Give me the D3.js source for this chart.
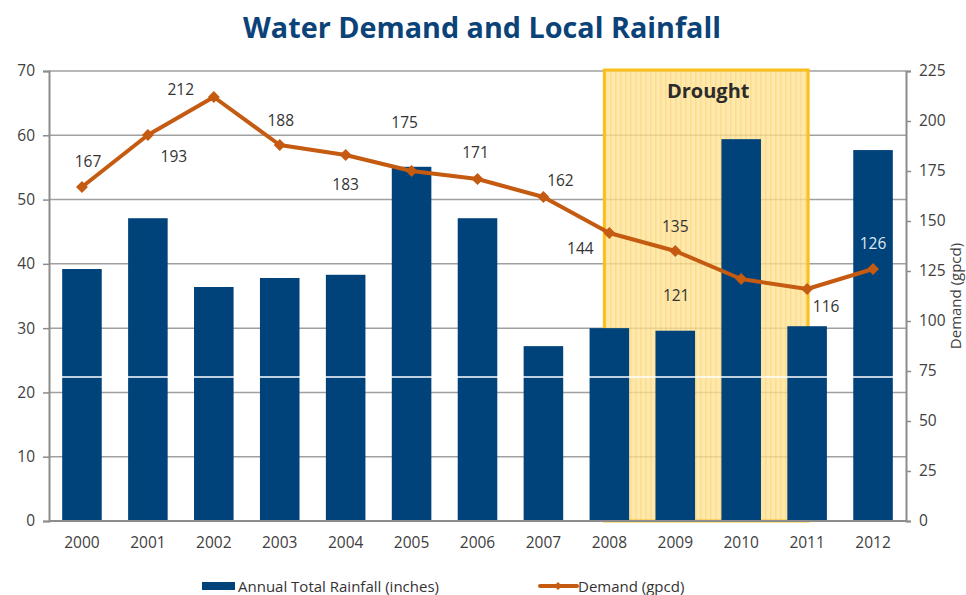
<!DOCTYPE html>
<html>
<head>
<meta charset="utf-8">
<script src="https://cdn.jsdelivr.net/npm/d3@7"></script>
<style>
  html, body { margin: 0; padding: 0; background: #fff; }
  svg { display: block; font-family: "Open Sans", "Noto Sans", sans-serif; }
</style>
</head>
<body>
<svg id="chart"></svg>
<script>
// data
const years = ["2000", "2001", "2002", "2003", "2004", "2005", "2006", "2007", "2008", "2009", "2010", "2011", "2012"];
const rainfall = [39.2, 47.1, 36.4, 37.8, 38.3, 55.1, 47.1, 27.2, 30.0, 29.6, 59.4, 30.3, 57.7];
const demand = [167, 193, 212, 188, 183, 175, 171, 162, 144, 135, 121, 116, 126];
const leftTicks = [0, 10, 20, 30, 40, 50, 60, 70];
const rightTicks = [0, 25, 50, 75, 100, 125, 150, 175, 200, 225];
const droughtYears = ["2008", "2011"];

// where each demand label sits relative to its point (manual placement like the original)
const labelNudge = [[6, -25], [26, 22], [-33, -7], [1, -24], [0, 30], [-7, -48], [-2, -26], [17, -16], [-29, 16], [0, -24], [-65, 17], [19, 18], [0, -25]];

const width = 966, height = 595;
const margin = {top: 71, right: 60, bottom: 74, left: 49};

const svg = d3.select("#chart")
    .attr("width", width)
    .attr("height", height);

const x = d3.scaleBand()
    .domain(years)
    .range([margin.left, width - margin.right])
    .paddingInner(0.4)
    .paddingOuter(0.2);

const yL = d3.scaleLinear().domain([0, 70]).range([height - margin.bottom, margin.top]);
const yR = d3.scaleLinear().domain([0, 225]).range([height - margin.bottom, margin.top]);

const navy = "#00427a";
const orange = "#c55a11";

// title
svg.append("text")
    .attr("x", 482)
    .attr("y", 38)
    .attr("text-anchor", "middle")
    .attr("font-size", 28)
    .attr("font-weight", 700)
    .attr("fill", "#0b4379")
    .attr("textLength", 478)
    .attr("lengthAdjust", "spacingAndGlyphs")
    .text("Water Demand and Local Rainfall");

// gridlines
svg.append("g")
    .selectAll("line")
    .data(leftTicks.slice(1))
    .enter().append("line")
    .attr("x1", margin.left)
    .attr("x2", width - margin.right)
    .attr("y1", d => yL(d))
    .attr("y2", d => yL(d))
    .attr("stroke", "#a0a0a0")
    .attr("stroke-width", 1.5);

// drought box
const defs = svg.append("defs");
const pat = defs.append("pattern")
    .attr("id", "stripes")
    .attr("width", 5)
    .attr("height", 4)
    .attr("patternUnits", "userSpaceOnUse");
pat.append("rect").attr("width", 5).attr("height", 4).attr("fill", "#fee294");
pat.append("rect").attr("width", 1.5).attr("height", 4).attr("fill", "#fcd36e");

const bx0 = x(droughtYears[0]) + x.bandwidth() / 2;
const bx1 = x(droughtYears[1]) + x.bandwidth() / 2;
svg.append("rect")
    .attr("x", bx0 - 5)
    .attr("y", yL(70) - 1)
    .attr("width", bx1 - bx0 + 6)
    .attr("height", yL(0) - yL(70) + 1)
    .attr("fill", "url(#stripes)")
    .attr("fill-opacity", 0.78)
    .attr("stroke", "#fbbf1c")
    .attr("stroke-width", 3);

svg.append("text")
    .attr("x", (bx0 + bx1) / 2)
    .attr("y", 98)
    .attr("text-anchor", "middle")
    .attr("font-size", 20)
    .attr("font-weight", 700)
    .attr("fill", "#2b2b2b")
    .text("Drought");

// bars
svg.append("g")
    .selectAll("rect")
    .data(rainfall)
    .enter().append("rect")
    .attr("x", (d, i) => x(years[i]))
    .attr("y", d => yL(d))
    .attr("width", x.bandwidth())
    .attr("height", d => yL(0) - yL(d))
    .attr("fill", navy);

// stray white rule seen in the original
svg.append("line")
    .attr("x1", margin.left - 3)
    .attr("x2", width - margin.right + 1)
    .attr("y1", yL(22.4))
    .attr("y2", yL(22.4))
    .attr("stroke", "#fff")
    .attr("stroke-width", 1.5);

// axes
const leftAxis = svg.append("g")
    .attr("transform", `translate(${margin.left},0)`)
    .call(d3.axisLeft(yL).tickValues(leftTicks).tickSize(6).tickPadding(8));
const rightAxis = svg.append("g")
    .attr("transform", `translate(${width - margin.right},0)`)
    .call(d3.axisRight(yR).tickValues(rightTicks).tickSize(5).tickPadding(8));
const bottomAxis = svg.append("g")
    .attr("transform", `translate(0,${yL(0)})`)
    .call(d3.axisBottom(x).tickSize(0).tickPadding(16));

[leftAxis, rightAxis, bottomAxis].forEach(g => {
    g.select(".domain").attr("stroke", "#8c8c8c").attr("stroke-width", 2);
    g.selectAll(".tick line").attr("stroke", "#8c8c8c").attr("stroke-width", 1.5);
    g.selectAll(".tick text")
        .attr("font-size", 15.5)
        .attr("fill", "#404040")
        .attr("font-family", "'Open Sans', 'Noto Sans', sans-serif");
});
bottomAxis.select(".domain").attr("d", `M${margin.left},0H${width - margin.right}`);

svg.append("text")
    .attr("transform", `translate(961,${(yL(0) + yL(70)) / 2}) rotate(-90)`)
    .attr("text-anchor", "middle")
    .attr("font-size", 15)
    .attr("fill", "#404040")
    .text("Demand (gpcd)");

// demand line
const line = d3.line()
    .x((d, i) => x(years[i]) + x.bandwidth() / 2)
    .y(d => yR(d));

svg.append("path")
    .datum(demand)
    .attr("d", line)
    .attr("fill", "none")
    .attr("stroke", orange)
    .attr("stroke-width", 4)
    .attr("stroke-linejoin", "round");

const diamond = d3.symbol().type(d3.symbolDiamond2).size(90);
svg.append("g")
    .selectAll("path")
    .data(demand)
    .enter().append("path")
    .attr("d", diamond)
    .attr("transform", (d, i) => `translate(${x(years[i]) + x.bandwidth() / 2},${yR(d)})`)
    .attr("fill", orange);

// demand labels
svg.append("g")
    .selectAll("text")
    .data(demand)
    .enter().append("text")
    .attr("x", (d, i) => x(years[i]) + x.bandwidth() / 2 + labelNudge[i][0])
    .attr("y", (d, i) => yR(d) + labelNudge[i][1])
    .attr("dy", "0.35em")
    .attr("text-anchor", "middle")
    .attr("font-size", 15.5)
    .attr("fill", (d, i) => i === demand.length - 1 ? "#dfe8f2" : "#333")
    .text(d => d);

// legend
const lg = svg.append("g").attr("font-size", 15).attr("fill", "#333");
lg.append("rect").attr("x", 202).attr("y", 582).attr("width", 33).attr("height", 8).attr("fill", navy);
lg.append("text").attr("x", 238).attr("y", 592).attr("fill", "#333").text("Annual Total Rainfall (inches)");
lg.append("line").attr("x1", 540).attr("x2", 577).attr("y1", 586).attr("y2", 586)
    .attr("stroke", orange).attr("stroke-width", 4).attr("stroke-linecap", "round");
lg.append("path").attr("d", d3.symbol().type(d3.symbolDiamond2).size(40))
    .attr("transform", "translate(558,586)").attr("fill", orange);
lg.append("text").attr("x", 578).attr("y", 592).attr("fill", "#333").text("Demand (gpcd)");
</script>
</body>
</html>
